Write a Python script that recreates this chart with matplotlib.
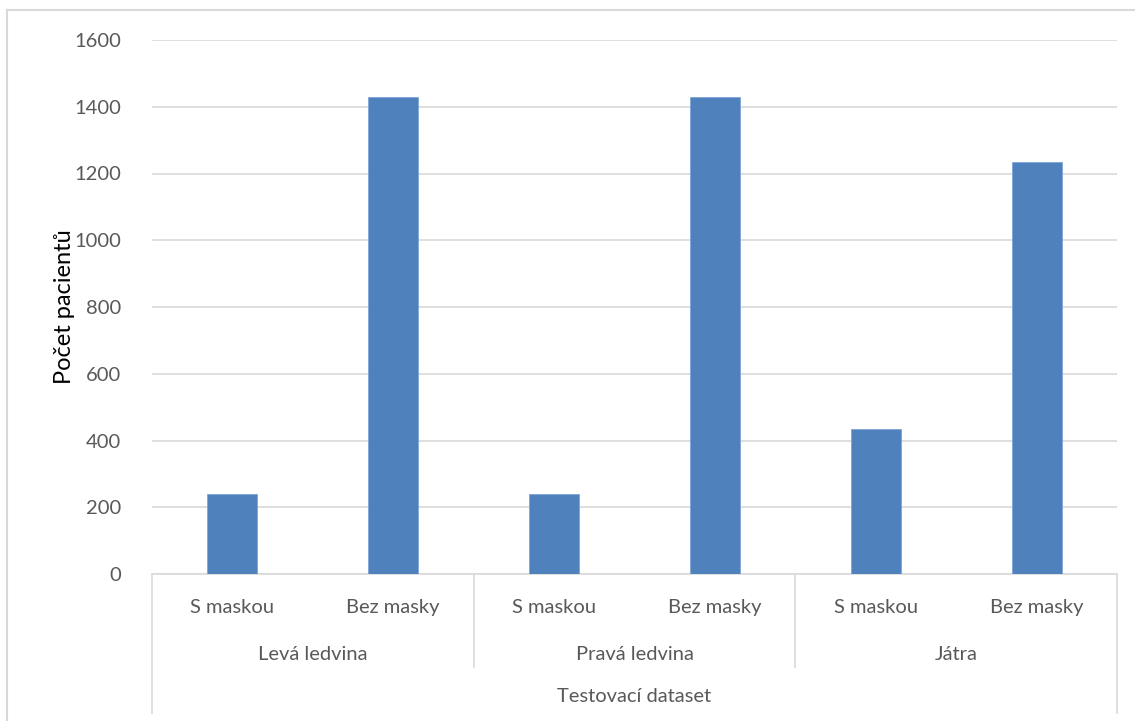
import matplotlib.pyplot as plt
from matplotlib.lines import Line2D

# Počet pacientů v testovacím datasetu podle orgánu a masky
orgány = ["Levá ledvina", "Pravá ledvina", "Játra"]
podskupiny = ["S maskou", "Bez masky"]
pocty = [239, 1430, 239, 1430, 434, 1233]

plt.rcParams['font.family'] = ['Lato', 'DejaVu Sans']
seda = "#595959"
cara = "#D9D9D9"

fig = plt.figure(figsize=(11.35, 7.21), dpi=100)
ax = fig.add_axes([152/1135, 1 - 574/721, (1117-152)/1135, 534/721])

x = list(range(len(pocty)))
ax.bar(x, pocty, width=0.31, color="#4F81BD", edgecolor="#7FA6D6", linewidth=0.6, zorder=3)

ax.set_xlim(-0.5, len(pocty) - 0.5)
ax.set_ylim(0, 1600)
ax.set_yticks(range(0, 1601, 200))
ax.grid(axis="y", color=cara, linewidth=1.2, zorder=0)
for s in ["top", "right", "left"]:
    ax.spines[s].set_visible(False)
ax.spines["bottom"].set_color(cara)
ax.spines["bottom"].set_linewidth(1.2)
ax.tick_params(axis="y", length=0, pad=22, labelsize=14.5, labelcolor=seda)
ax.tick_params(axis="x", length=0, pad=24, labelsize=14.5, labelcolor=seda)
ax.set_xticks(x)
ax.set_xticklabels(podskupiny * len(orgány), va="center")
ax.set_ylabel("Počet pacientů", fontsize=17, labelpad=0)

# víceúrovňová osa x
tr = ax.get_xaxis_transform()
px = 1 / 534
y_skup = -(667 - 574) * px
y_dole = -(713 - 574) * px
for hranice in [-0.5, 5.5]:
    ax.add_line(Line2D([hranice, hranice], [0, y_dole], transform=tr, color=cara, lw=1.2, clip_on=False))
for hranice in [1.5, 3.5]:
    ax.add_line(Line2D([hranice, hranice], [0, y_skup], transform=tr, color=cara, lw=1.2, clip_on=False))
for i, nazev in enumerate(orgány):
    ax.text(2 * i + 0.5, -(654 - 574) * px, nazev, transform=tr, ha="center", va="center",
            fontsize=14.5, color=seda)
ax.text(2.5, -(697 - 574) * px, "Testovací dataset", transform=tr, ha="center", va="center",
        fontsize=14.5, color=seda)

# rámeček grafu
fig.add_artist(Line2D([7/1135, 7/1135], [0, 1 - 10/721], color=cara, lw=1.5))
fig.add_artist(Line2D([7/1135, 1], [1 - 10/721, 1 - 10/721], color=cara, lw=1.5))

fig.savefig("out.png", dpi=100)
